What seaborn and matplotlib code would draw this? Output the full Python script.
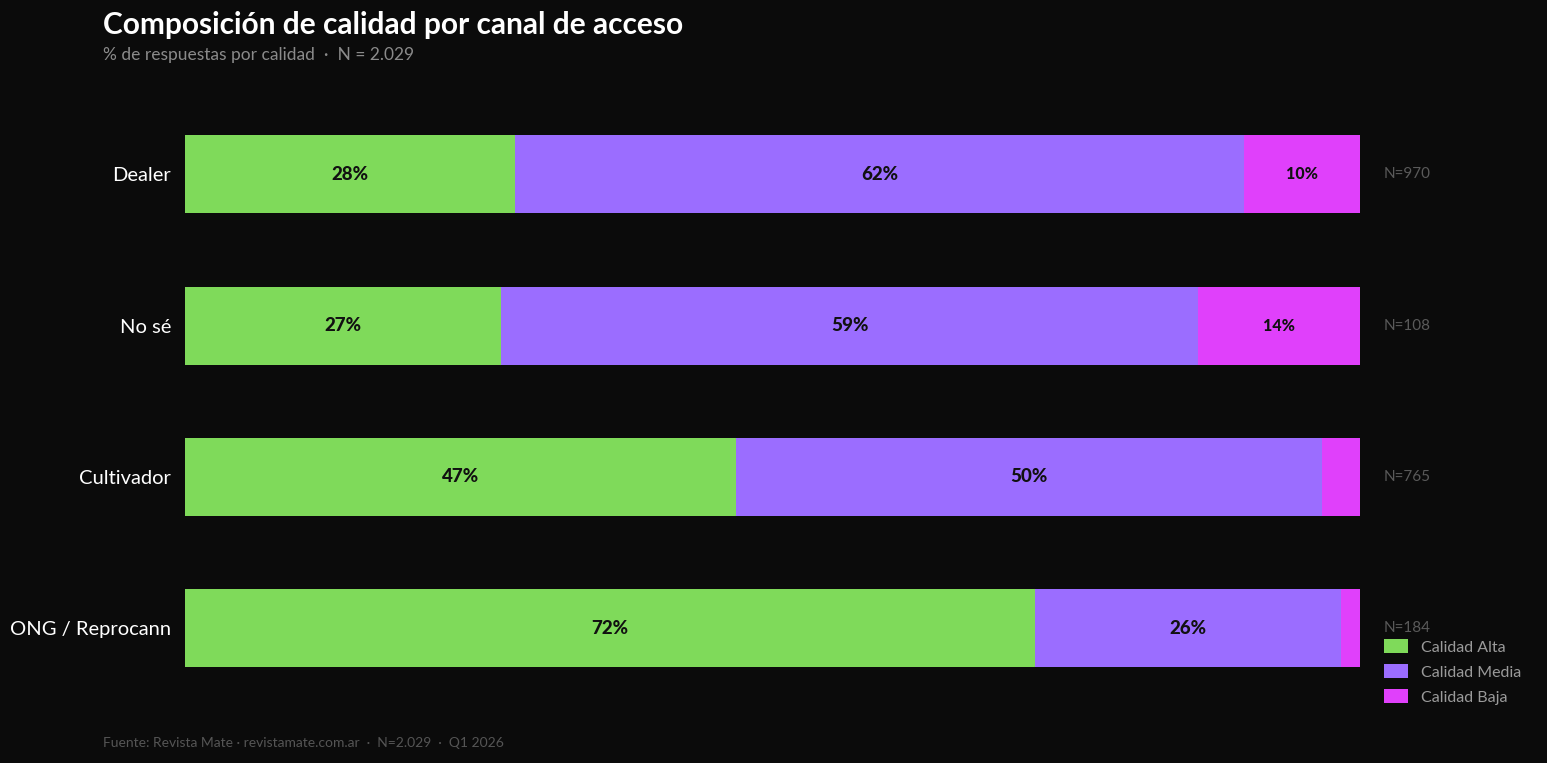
import matplotlib
matplotlib.use("Agg")
import matplotlib.pyplot as plt
import seaborn as sns
import numpy as np
import pandas as pd
from matplotlib.patches import Patch

categories = ["Dealer", "No sé", "Cultivador", "ONG / Reprocann"]
alta = [28.1, 26.9, 46.9, 72.3]
media = [62.0, 59.3, 49.9, 26.1]
baja = [9.9, 13.8, 3.2, 1.6]
n_labels = ["N=970", "N=108", "N=765", "N=184"]
series_names = ["Calidad Alta", "Calidad Media", "Calidad Baja"]
colors = ["#7FDA5A", "#9B6DFF", "#E040FB"]

BG = "#0B0B0B"
sns.set_theme(style="dark")
plt.rcParams["font.family"] = ["Lato", "DejaVu Sans"]

fig = plt.figure(figsize=(15.47, 7.63), dpi=100, facecolor=BG)
ax = fig.add_axes([185/1547, 1 - 703.75/763, 1175/1547, 605/763])
ax.set_facecolor(BG)

df = pd.DataFrame({"cat": categories, "alta": alta, "media": media, "baja": baja})
df["c2"] = df["alta"] + df["media"]
df["c3"] = df["c2"] + df["baja"]

for col, c in [("c3", colors[2]), ("c2", colors[1]), ("alta", colors[0])]:
    sns.barplot(data=df, x=col, y="cat", order=categories, color=c, orient="h",
                width=0.516, saturation=1, ax=ax, linewidth=0)

ax.set_xlim(0, 100)
ax.set_ylim(3.5, -0.5)
ax.set_xlabel("")
ax.set_ylabel("")
ax.set_xticks([])
ax.grid(False)
for s in ax.spines.values():
    s.set_visible(False)
ax.tick_params(axis="y", length=0, pad=10, labelsize=14.5, labelcolor="white")

for i in range(len(categories)):
    segs = [(0, alta[i]), (alta[i], media[i]), (alta[i] + media[i], baja[i])]
    for start, w in segs:
        if w >= 5:
            fs = 13.5 if w >= 20 else 11.5
            ax.text(start + w / 2, i, f"{w:.0f}%", ha="center", va="center",
                    fontsize=fs, fontweight=900, color="#111111")
    ax.text(102, i, n_labels[i], ha="left", va="center", fontsize=11,
            color="#5A5A5A", transform=ax.transData, clip_on=False)

handles = [Patch(facecolor=c, edgecolor="none", label=n) for c, n in zip(colors, series_names)]
leg = fig.legend(handles=handles, loc="upper left", bbox_to_anchor=(1370/1547, 1 - 625/763),
                 frameon=False, fontsize=11.5, labelcolor="#9A9A9A", handlelength=1.5,
                 handleheight=0.9, handletextpad=0.8, labelspacing=0.62)

fig.text(103/1547, 1 - 25/763, "Composición de calidad por canal de acceso", ha="left", va="center",
         fontsize=21.5, fontweight="bold", color="white")
fig.text(103/1547, 1 - 55/763, "% de respuestas por calidad  ·  N = 2.029", ha="left", va="center",
         fontsize=12.5, color="#8A8A8A")
fig.text(103/1547, 1 - 743/763, "Fuente: Revista Mate · revistamate.com.ar  ·  N=2.029  ·  Q1 2026",
         ha="left", va="center", fontsize=10, color="#555555")

fig.savefig("out.png", dpi=100, facecolor=BG)
